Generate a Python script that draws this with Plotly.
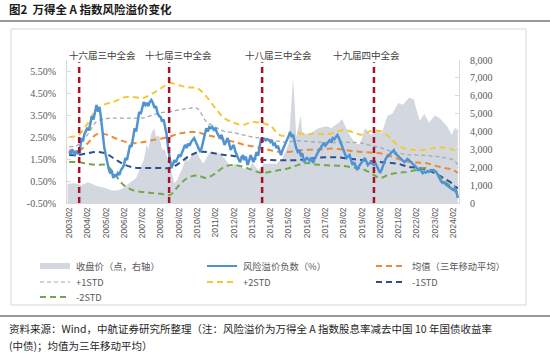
import pandas as pd
import plotly.graph_objects as go

# ---------------- data ----------------
# Wind All A closing price (points, right axis)
close_dates = ["2003-01", "2003-06", "2003-10", "2004-02", "2004-04", "2004-08", "2005-01", "2005-06",
               "2005-10", "2006-02", "2006-06", "2006-10", "2007-01", "2007-03", "2007-05", "2007-06",
               "2007-08", "2007-10", "2007-11", "2008-01", "2008-03", "2008-05", "2008-07", "2008-09",
               "2008-11", "2009-01", "2009-03", "2009-05", "2009-07", "2009-08", "2009-11", "2010-02",
               "2010-06", "2010-10", "2010-12", "2011-04", "2011-08", "2011-12", "2012-03", "2012-08",
               "2012-12", "2013-02", "2013-06", "2013-10", "2014-02", "2014-06", "2014-10", "2014-12",
               "2015-02", "2015-03", "2015-04", "2015-05", "2015-06", "2015-07", "2015-09", "2015-10",
               "2015-11", "2016-01", "2016-03", "2016-06", "2016-10", "2017-03", "2017-06", "2017-11",
               "2018-01", "2018-03", "2018-06", "2018-10", "2019-01", "2019-04", "2019-08", "2019-12",
               "2020-03", "2020-07", "2020-10", "2020-12", "2021-02", "2021-05", "2021-09", "2021-12",
               "2022-04", "2022-07", "2022-10", "2023-02", "2023-05", "2023-10", "2024-01", "2024-03",
               "2024-05"]
close_vals = [1070, 1100, 1000, 1150, 1120, 950, 850, 700,
              720, 850, 1150, 1400, 2000, 2400, 3300, 3000,
              3900, 4200, 3700, 3800, 3000, 3000, 2300, 1800,
              1100, 1300, 1700, 2100, 2700, 2300, 2800, 2750,
              2200, 2800, 2850, 2800, 2500, 2000, 2200, 1950,
              1900, 2250, 1850, 2200, 2200, 2200, 2500, 2950,
              3300, 4500, 6000, 7000, 5500, 3700, 4500, 4900,
              3800, 3900, 3800, 4000, 4200, 4300, 4200, 4500,
              4700, 4350, 3800, 3300, 3300, 4200, 3800, 4100,
              3900, 4900, 5000, 5300, 5600, 5500, 5900, 5800,
              4600, 5000, 4500, 4900, 4750, 4300, 3800, 4200,
              4100]

# Negative equity risk premium (%), monthly Feb 2003 - May 2024
rp_by_year = [
    [1.85, 1.72, 1.95, 1.78, 1.70, 1.88, 1.75, 1.80, 2.45, 2.30, 2.62],                # 2003 Feb-Dec
    [2.75, 2.92, 2.80, 3.15, 3.45, 3.30, 3.70, 3.95, 3.65, 3.85, 3.30, 2.55],          # 2004
    [2.05, 1.68, 1.30, 1.05, 0.85, 0.95, 0.64, 0.80, 0.70, 0.86, 0.78, 1.00],          # 2005
    [1.09, 1.25, 1.55, 1.45, 1.80, 2.14, 2.05, 2.50, 2.90, 2.75, 3.20, 3.64],          # 2006
    [3.55, 3.80, 4.09, 3.95, 4.05, 3.90, 4.10, 4.18, 4.05, 3.82, 3.90, 3.60],          # 2007
    [3.45, 3.41, 3.20, 3.30, 2.95, 2.60, 2.00, 1.60, 1.09, 1.25, 1.45, 1.35],          # 2008
    [1.55, 1.70, 1.60, 1.82, 1.95, 2.14, 2.00, 2.20, 2.10, 2.27, 2.35, 2.45],          # 2009
    [2.30, 2.14, 1.95, 1.82, 2.00, 2.27, 2.55, 2.90, 2.75, 2.95, 2.90, 2.95],          # 2010
    [2.82, 2.90, 2.70, 2.59, 2.45, 2.60, 2.30, 2.14, 2.30, 2.45, 2.20, 1.91],          # 2011
    [2.05, 2.14, 1.85, 1.70, 1.55, 1.36, 1.50, 1.68, 1.45, 1.60, 1.23, 1.40],          # 2012
    [1.68, 1.50, 1.36, 1.55, 1.82, 1.65, 2.10, 2.45, 2.30, 2.45, 2.35, 2.40],          # 2013
    [2.36, 2.27, 2.35, 2.15, 2.20, 2.00, 2.10, 1.85, 1.68, 1.90, 2.05, 2.27],          # 2014
    [2.40, 2.55, 2.73, 2.50, 2.60, 2.27, 2.00, 1.82, 1.90, 1.68, 1.75, 1.36],          # 2015
    [1.45, 1.55, 1.50, 1.40, 1.55, 1.32, 1.50, 1.65, 1.82, 1.90, 2.00, 2.14],          # 2016
    [2.23, 2.10, 2.20, 2.27, 2.35, 2.25, 2.45, 2.40, 2.50, 2.59, 2.45, 2.27],          # 2017
    [2.05, 1.82, 1.70, 1.55, 1.62, 1.68, 1.45, 1.23, 1.35, 1.14, 1.00, 1.15],          # 2018
    [1.25, 1.36, 1.45, 1.55, 1.40, 1.23, 1.30, 1.36, 1.28, 1.23, 1.30, 1.14],          # 2019
    [1.05, 0.86, 1.00, 1.23, 1.40, 1.55, 1.62, 1.68, 1.75, 1.82, 1.90, 1.75],          # 2020
    [1.68, 1.60, 1.55, 1.48, 1.40, 1.36, 1.42, 1.50, 1.45, 1.38, 1.30, 1.23],          # 2021
    [1.20, 1.10, 1.00, 1.05, 0.95, 0.86, 0.92, 0.88, 0.95, 0.91, 0.98, 1.00],          # 2022
    [1.00, 0.95, 0.90, 0.77, 0.60, 0.50, 0.41, 0.45, 0.35, 0.30, 0.25, 0.23],          # 2023
    [0.15, 0.09, 0.18, 0.05, -0.27],                                                     # 2024 Jan-May
]
rp_vals = [v for yr in rp_by_year for v in yr]
rp_dates = pd.date_range("2003-02-01", "2024-05-01", freq="MS")

# Band nodes (semi-annual)
band_dates = [f"{y}-{m}" for y in range(2003, 2024) for m in ("02", "08")] + ["2024-02", "2024-05"]
plus2 = [2.50, 2.59, 3.10, 3.75, 4.00, 4.12, 4.30, 4.32, 4.27, 4.45, 4.70, 4.95, 4.85, 4.75,
         4.72, 4.35, 3.80, 3.35, 3.15, 3.05, 3.18, 3.14, 3.00, 2.60, 2.55, 2.68, 2.62, 2.65,
         2.62, 2.70, 2.82, 2.72, 2.60, 2.77, 2.77, 2.50, 2.10, 1.95, 1.90, 1.92, 2.00, 2.02,
         1.92, 1.82]
plus1 = [2.05, 2.14, 2.60, 3.20, 3.33, 3.36, 3.36, 3.36, 3.36, 3.48, 3.60, 3.66, 3.73, 3.80,
         3.80, 3.20, 2.95, 2.75, 2.70, 2.60, 2.50, 2.45, 2.38, 2.30, 2.27, 2.33, 2.30, 2.27,
         2.25, 2.25, 2.27, 2.25, 2.22, 2.12, 2.02, 1.88, 1.78, 1.70, 1.68, 1.66, 1.62, 1.56,
         1.45, 1.25]
mean3y = [1.90, 1.85, 2.20, 2.62, 2.62, 2.45, 2.30, 2.22, 2.26, 2.35, 2.42, 2.52, 2.65, 2.72,
          2.72, 2.60, 2.50, 2.38, 2.28, 2.16, 2.08, 2.00, 1.90, 1.82, 1.82, 1.88, 1.92, 1.92,
          1.95, 1.98, 1.92, 1.86, 1.82, 1.80, 1.76, 1.65, 1.50, 1.38, 1.34, 1.32, 1.20, 1.10,
          1.00, 0.86]
minus1 = [1.68, 1.68, 1.76, 1.82, 1.75, 1.50, 1.25, 1.12, 1.09, 1.09, 1.09, 1.09, 1.30, 1.60,
          1.80, 1.82, 1.75, 1.68, 1.64, 1.58, 1.52, 1.47, 1.45, 1.44, 1.44, 1.45, 1.50, 1.55,
          1.58, 1.58, 1.55, 1.50, 1.45, 1.40, 1.36, 1.33, 1.28, 1.15, 1.10, 1.02, 0.85, 0.62,
          0.35, 0.15]
minus2 = [1.36, 1.36, 1.28, 1.23, 1.23, 0.80, 0.30, 0.08, 0.00, -0.04, -0.08, -0.14, 0.30, 0.65,
          0.75, 0.64, 0.85, 1.15, 1.23, 1.15, 1.00, 0.87, 0.92, 1.00, 1.08, 1.22, 1.32, 1.25,
          1.22, 1.20, 1.18, 1.12, 1.05, 0.86, 0.64, 0.80, 0.88, 0.92, 1.00, 1.09, 0.90, 0.50,
          0.15, -0.14]

event_dates = ["2003-08-20", "2008-07-20", "2013-08-20", "2019-10-01"]
event_names = ["十六届三中全会", "十七届三中全会", "十八届三中全会", "十九届四中全会"]

left_ticks = [-0.5, 0.5, 1.5, 2.5, 3.5, 4.5, 5.5]
right_ticks = [0, 1000, 2000, 3000, 4000, 5000, 6000, 7000, 8000]
x_tick_years = list(range(2003, 2025))

# ---------------- styling ----------------
W, H = 550, 359
L, R, T, B = 67, 459, 60, 203
def px(x):
    return (x - L) / (R - L)
def py(y):
    return 1 - (y - T) / (B - T)

C_AREA = "#d3d8e0"
C_BLUE = "#4f93d3"
C_ORANGE = "#ed8a3a"
C_GRAY = "#a8a8a8"
C_YELLOW = "#f2c934"
C_DBLUE = "#2e4f8f"
C_GREEN = "#72a84a"
C_RED = "#a8102a"
TXT = "#595959"
CJK = "Noto Sans CJK SC"
SERIF = "Liberation Serif"

fig = go.Figure()
fig.add_trace(go.Scatter(x=close_dates, y=close_vals, mode="lines", fill="tozeroy",
                         fillcolor=C_AREA, line=dict(width=0, color=C_AREA),
                         yaxis="y", showlegend=False))

band_specs = [
    (plus2, C_YELLOW, 2, "6px,4px"),
    (plus1, C_GRAY, 1.3, "4px,3px"),
    (mean3y, C_ORANGE, 2, "6px,4px"),
    (minus1, C_DBLUE, 2, "6px,4px"),
    (minus2, C_GREEN, 2, "6px,4px"),
]
for vals, col, w, dash in band_specs:
    fig.add_trace(go.Scatter(x=band_dates, y=vals, mode="lines", yaxis="y2",
                             line=dict(color=col, width=w, dash=dash, shape="spline", smoothing=1.0),
                             showlegend=False))

fig.add_trace(go.Scatter(x=rp_dates, y=rp_vals, mode="lines", yaxis="y2",
                         line=dict(color=C_BLUE, width=2.5), showlegend=False))

shapes = []
annotations = []
for d in event_dates:
    shapes.append(dict(type="line", xref="x", yref="paper", x0=d, x1=d, y0=0, y1=0.985,
                       line=dict(color=C_RED, width=2.5, dash="6px,4px"), layer="above"))
label_centers = [102, 178, 278, 366]
for name, cx in zip(event_names, label_centers):
    annotations.append(dict(text=name, xref="paper", yref="paper", x=px(cx), y=py(55),
                            xanchor="center", yanchor="middle", showarrow=False,
                            font=dict(family=CJK, size=9.5, color="#404040")))

# page decorations
annotations.append(dict(text="<b>图2  万得全 A 指数风险溢价变化</b>", xref="paper", yref="paper",
                        x=px(7), y=py(9), xanchor="left", yanchor="middle", showarrow=False,
                        font=dict(family=CJK, size=11.5, color="#1a1a1a")))
shapes.append(dict(type="line", xref="paper", yref="paper", x0=px(0), x1=px(550), y0=py(21), y1=py(21),
                   line=dict(color="#333333", width=1.2)))
shapes.append(dict(type="rect", xref="paper", yref="paper", x0=px(11), x1=px(526), y0=py(29), y1=py(305),
                   line=dict(color="#d6d6d6", width=1), layer="below"))
shapes.append(dict(type="line", xref="paper", yref="paper", x0=px(0), x1=px(550), y0=py(316), y1=py(316),
                   line=dict(color="#333333", width=1.2)))
annotations.append(dict(text="资料来源：Wind，中航证券研究所整理（注：风险溢价为万得全 A 指数股息率减去中国 10 年国债收益率",
                        xref="paper", yref="paper", x=px(7), y=py(328.5), xanchor="left", yanchor="middle",
                        showarrow=False, font=dict(family=CJK, size=10.5, color="#262626")))
annotations.append(dict(text="(中债)；均值为三年移动平均）",
                        xref="paper", yref="paper", x=px(7), y=py(345), xanchor="left", yanchor="middle",
                        showarrow=False, font=dict(family=CJK, size=10.5, color="#262626")))

# manual legend
legend_items = [
    ("收盘价（点，右轴）", "area", None, 40, 266),
    ("风险溢价负数（%）", "solid", C_BLUE, 207, 266),
    ("均值（三年移动平均）", "dash", C_ORANGE, 376, 266),
    ("+1STD", "thin", C_GRAY, 40, 282),
    ("+2STD", "dash", C_YELLOW, 207, 282),
    ("-1STD", "dash", C_DBLUE, 376, 282),
    ("-2STD", "dash", C_GREEN, 40, 297),
]
for label, kind, col, x0, yc in legend_items:
    x1 = x0 + 30
    if kind == "area":
        shapes.append(dict(type="rect", xref="paper", yref="paper", x0=px(x0), x1=px(x1),
                           y0=py(yc - 3), y1=py(yc + 3), line=dict(width=0), fillcolor=C_AREA))
    elif kind == "solid":
        shapes.append(dict(type="line", xref="paper", yref="paper", x0=px(x0), x1=px(x1),
                           y0=py(yc), y1=py(yc), line=dict(color=col, width=2)))
    elif kind == "thin":
        shapes.append(dict(type="line", xref="paper", yref="paper", x0=px(x0), x1=px(x1),
                           y0=py(yc), y1=py(yc), line=dict(color=col, width=1.2, dash="4px,3px")))
    else:
        shapes.append(dict(type="line", xref="paper", yref="paper", x0=px(x0), x1=px(x1),
                           y0=py(yc), y1=py(yc), line=dict(color=col, width=2, dash="6px,4px")))
    annotations.append(dict(text=label, xref="paper", yref="paper", x=px(x1 + 4), y=py(yc),
                            xanchor="left", yanchor="middle", showarrow=False,
                            font=dict(family=CJK, size=9.3, color=TXT)))

fig.update_layout(
    width=W, height=H,
    margin=dict(l=L, r=W - R, t=T, b=H - B, pad=0),
    paper_bgcolor="white", plot_bgcolor="white",
    showlegend=False,
    shapes=shapes, annotations=annotations,
    xaxis=dict(type="date", range=["2002-12-20", "2024-05-25"],
               tickvals=[f"{y}-02-01" for y in x_tick_years],
               ticktext=[f"{y}/02" for y in x_tick_years],
               tickangle=-90, tickfont=dict(family="Liberation Sans", size=8.5, color=TXT),
               showgrid=False, zeroline=False, showline=True, linecolor="#d9d9d9", ticks=""),
    yaxis=dict(side="right", range=[0, 8000], tickvals=right_ticks,
               ticktext=[f"{v:,}" for v in right_ticks],
               tickfont=dict(family=SERIF, size=10, color=TXT),
               showgrid=False, zeroline=False, showline=True, linecolor="#d9d9d9",
               ticks="inside", ticklen=4, tickcolor="#d9d9d9", ticklabelstandoff=8),
    yaxis2=dict(overlaying="y", side="left", range=[-0.5, 6.0], tickvals=left_ticks,
                ticktext=[f"{v:.2f}%" for v in left_ticks],
                tickfont=dict(family=SERIF, size=10, color=TXT),
                showgrid=False, zeroline=False, showline=True, linecolor="#d9d9d9",
                ticks="inside", ticklen=4, tickcolor="#d9d9d9", ticklabelstandoff=8),
)

fig.write_html("out.html", config={"displayModeBar": False},
               post_script="document.body.style.margin='0px';document.body.style.overflow='hidden';")
